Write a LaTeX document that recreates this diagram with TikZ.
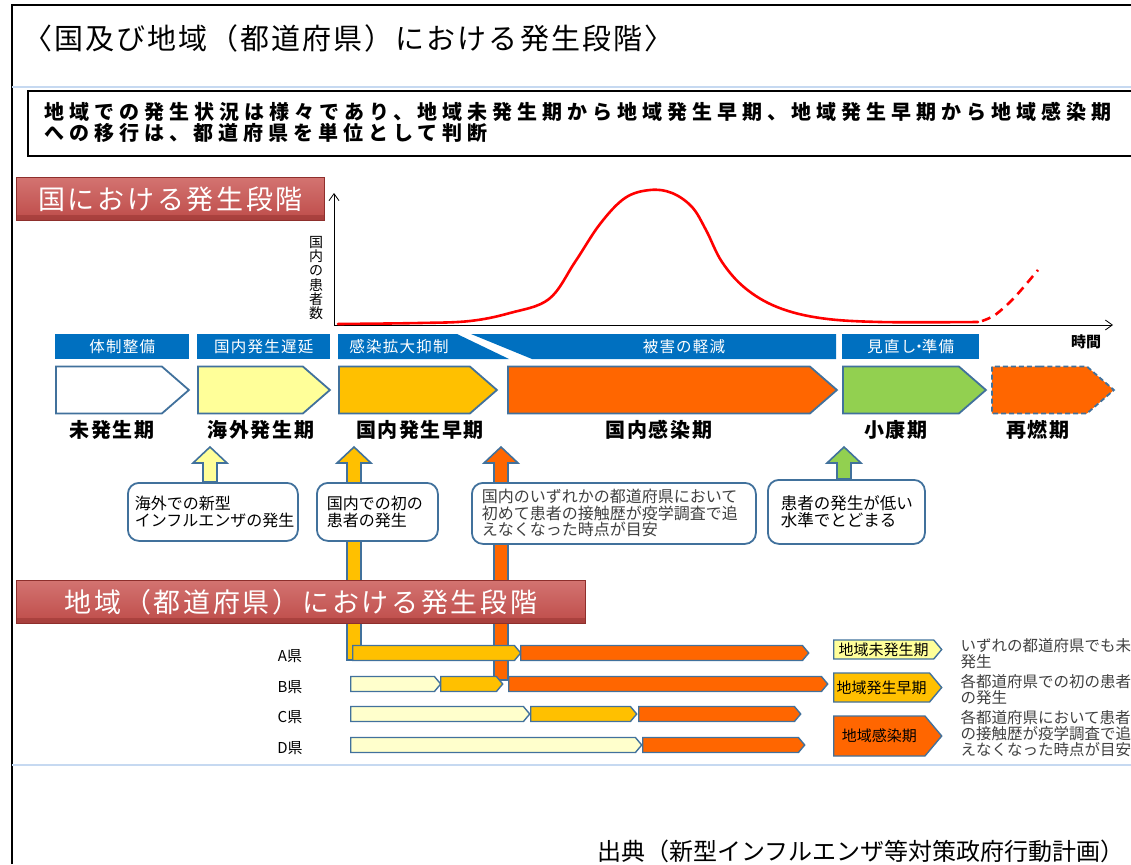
\documentclass[tikz,border=0pt]{standalone}
\usepackage{fontspec}
\setmainfont{Noto Sans CJK JP}
\usetikzlibrary{shapes.symbols,arrows.meta}

\definecolor{bandblue}{HTML}{0070C0}
\definecolor{edgeblue}{HTML}{41719C}
\definecolor{ylw}{HTML}{FFFF99}
\definecolor{pale}{HTML}{FFFFCC}
\definecolor{gold}{HTML}{FFC000}
\definecolor{orng}{HTML}{FF6600}
\definecolor{grn}{HTML}{92D050}
\definecolor{bannerred}{HTML}{C8504D}
\definecolor{bannerdark}{HTML}{8E2F2C}
\definecolor{paleblue}{HTML}{C6D9F1}
\definecolor{txtgray}{HTML}{404040}

\newcommand{\setfs}[1]{\fontsize{#1}{#1}\selectfont}
\newcommand{\spaced}[1]{\addfontfeature{LetterSpace=#1}}

\tikzset{
    band/.style={fill=bandblue, text=white, font=\setfs{15.5}\spaced{8}, minimum height=25pt, inner sep=0pt, anchor=north west},
    bandtext/.style={text=white, font=\setfs{15.5}\spaced{8}},
    phase/.style={shape=signal, signal to=east, signal from=nowhere, signal pointer angle=82, draw=edgeblue, line width=1.8pt, minimum height=47pt, inner sep=0pt, anchor=west},
    phasename/.style={font=\setfs{20}\bfseries\spaced{8}},
    uparrow/.style={draw=edgeblue, line width=1.6pt, line join=miter},
    callout/.style={draw=edgeblue, line width=1.8pt, rounded corners=11pt, fill=white, anchor=north west, align=left, inner ysep=0pt, font=\fontsize{16}{16.5}\selectfont},
    banner/.style={top color=bannerred!80!white, bottom color=bannerred!95!black, draw=bannerdark, line width=1pt, text=white, inner sep=0pt, anchor=north west, font=\setfs{27}\spaced{10}},
    bevel/.style={fill=bannerdark, opacity=0.45},
    bar/.style={shape=signal, signal to=east, signal from=nowhere, signal pointer angle=100, draw=edgeblue, line width=1.4pt, minimum height=15pt, inner sep=0pt, anchor=west},
    legendbox/.style={bar, minimum width=108pt, font=\setfs{15}},
    note/.style={anchor=west, align=left, text=txtgray, font=\fontsize{15.5}{16}\selectfont},
    rowlabel/.style={font=\setfs{15}},
    casecurve/.style={red, line width=2.6pt, line cap=round},
    axisline/.style={line width=0.8pt, -{Straight Barb[length=7pt,width=10pt]}}
}

\begin{document}
\begin{tikzpicture}[x=1pt,y=-1pt]
\useasboundingbox (0,0) rectangle (1131,864);
% frame and heading
\draw[line width=2pt] (12,864) -- (12,5) -- (1131,5);
\node[anchor=west, font=\setfs{29}\spaced{7}] (title) at (20,38) {〈国及び地域（都道府県）における発生段階〉};
\draw[paleblue, line width=1.5pt] (12,87) -- (1131,87);
\node[draw, line width=2pt, anchor=north west, minimum width=1120pt, minimum height=65pt] (summary) at (27,90) {};
\node[anchor=west, align=left, font=\fontsize{20}{21}\selectfont\bfseries\spaced{25}] (summarytext) at (41,122.5)
    {地域での発生状況は様々であり、\hspace{4pt}地域未発生期から地域発生早期、\hspace{4pt}地域発生早期から地域感染期\\への移行は、\hspace{4pt}都道府県を単位として判断};

% national stages
\node[banner, minimum width=308pt, minimum height=43pt] (natbanner) at (16,177) {国における発生段階};
\fill[bevel] ([yshift=6pt]natbanner.south west) rectangle (natbanner.south east);

\coordinate (orig) at (334,325);
\coordinate (ytop) at (334,193);
\coordinate (xend) at (1113,325);
\draw[axisline] (orig) -- (ytop);
\draw[axisline] (orig) -- (xend);
\node[font=\fontsize{14}{14.2}\selectfont, align=center] (ylab) at (316,278) {国\\内\\の\\患\\者\\数};
\node[font=\setfs{15}\bfseries] (xlab) at (1086,342) {時間};

\draw[casecurve] plot[smooth, tension=0.6] coordinates {(338,324) (420,323) (470,321) (510,313) (549,299) (575,262) (600,224) (625,198) (650,190) (672,193) (692,207) (706,230) (722,262) (745,288) (777,307) (820,318) (880,322) (978,322)};
\draw[casecurve, line cap=butt, dash pattern=on 9pt off 6pt] plot[smooth] coordinates {(982,321) (995,315) (1014,298) (1038,270)};

\node[band, minimum width=134pt] (bandA) at (55,334) {体制整備};
\node[band, minimum width=133pt] (bandB) at (197,334) {国内発生遅延};
\path[fill=bandblue] (338,334) -- (457,334) -- (509,359) -- (338,359) -- cycle;
\node[bandtext] (bandC) at (399,346.5) {感染拡大抑制};
\path[fill=bandblue] (471,334) -- (836,334) -- (836,359) -- (532,359) -- cycle;
\node[bandtext] (bandD) at (684,346.5) {被害の軽減};
\node[band, minimum width=137pt] (bandE) at (842,334) {見直し\hspace{-5pt}・\hspace{-5pt}準備};

\foreach \n/\c/\a/\b/\lx/\t in {pre/white/55/188/112/未発生期, abroad/ylw/197/329/261/海外発生期, early/gold/338/496/420/国内発生早期, spread/orng/507/836/659/国内感染期, calm/grn/842/985/896/小康期}{
    \node[phase, fill=\c, minimum width=\b-\a] (\n) at (\a,390) {};
    \node[phasename] (\n-name) at (\lx,430) {\t};
}
\node[phase, fill=orng, dash pattern=on 5pt off 3pt, minimum width=122pt] (relapse) at (991,390) {};
\node[phasename] (relapse-name) at (1038,430) {再燃期};

% triggers
\foreach \x/\c/\b in {210/ylw/482, 354/gold/660, 501/orng/680, 844/grn/479}
    \draw[uparrow, fill=\c] (\x-7,\b) -- (\x-7,463) -- (\x-17,463) -- (\x,447) -- (\x+17,463) -- (\x+7,463) -- (\x+7,\b) -- cycle;

\node[callout, text width=156pt, inner xsep=7pt, minimum height=58pt] (c-abroad) at (127,482) {海外での新型\\インフルエンザの発生};
\node[callout, text width=101pt, inner xsep=10pt, minimum height=58pt] (c-first) at (316,482) {国内での初の\\患者の発生};
\node[callout, text width=264pt, inner xsep=10pt, minimum height=61pt, text=txtgray] (c-any) at (471,482) {国内のいずれかの都道府県において\\初めて患者の接触歴が疫学調査で追\\えなくなった時点が目安};
\node[callout, text width=131pt, inner xsep=13pt, minimum height=64pt, font=\fontsize{16.5}{16.5}\selectfont] (c-low) at (767,479) {患者の発生が低い\\水準でとどまる};

% regional stages
\node[banner, minimum width=569pt, minimum height=43pt] (regbanner) at (16,580) {地域（都道府県）における発生段階};
\fill[bevel] ([yshift=6pt]regbanner.south west) rectangle (regbanner.south east);

\foreach \r/\y/\segs in {A/653/{gold/352/520,orng/520/808}, B/684/{pale/350/440,gold/440/502,orng/508/827}, C/714/{pale/350/529,gold/530/636,orng/638/800}, D/745/{pale/350/641,orng/642/804}}{
    \node[rowlabel] (lab\r) at (290,\y+3) {\r 県};
    \foreach \c/\a/\b [count=\i] in \segs
        \node[bar, fill=\c, minimum width=\b-\a] (bar\r\i) at (\a,\y) {};
}

\node[legendbox, fill=ylw, minimum height=19pt] (legNone) at (833,649.5) {地域未発生期};
\node[legendbox, fill=gold, minimum height=29pt] (legEarly) at (833,687.5) {地域発生早期};
\node[legendbox, fill=orng, minimum height=40pt] (legSpread) at (833,736) {地域感染期};
\node[note] (noteNone) at (957,653.5) {いずれの都道府県でも未\\発生};
\node[note] (noteEarly) at (957,689.5) {各都道府県での初の患者\\の発生};
\node[note] (noteSpread) at (957,734) {各都道府県において患者\\の接触歴が疫学調査で追\\えなくなった時点が目安};

\draw[paleblue, line width=1.5pt] (12,765) -- (1131,765);
\node[anchor=east, font=\setfs{24}] (source) at (1128,851) {出典（新型インフルエンザ等対策政府行動計画）};
\end{tikzpicture}
\end{document}
